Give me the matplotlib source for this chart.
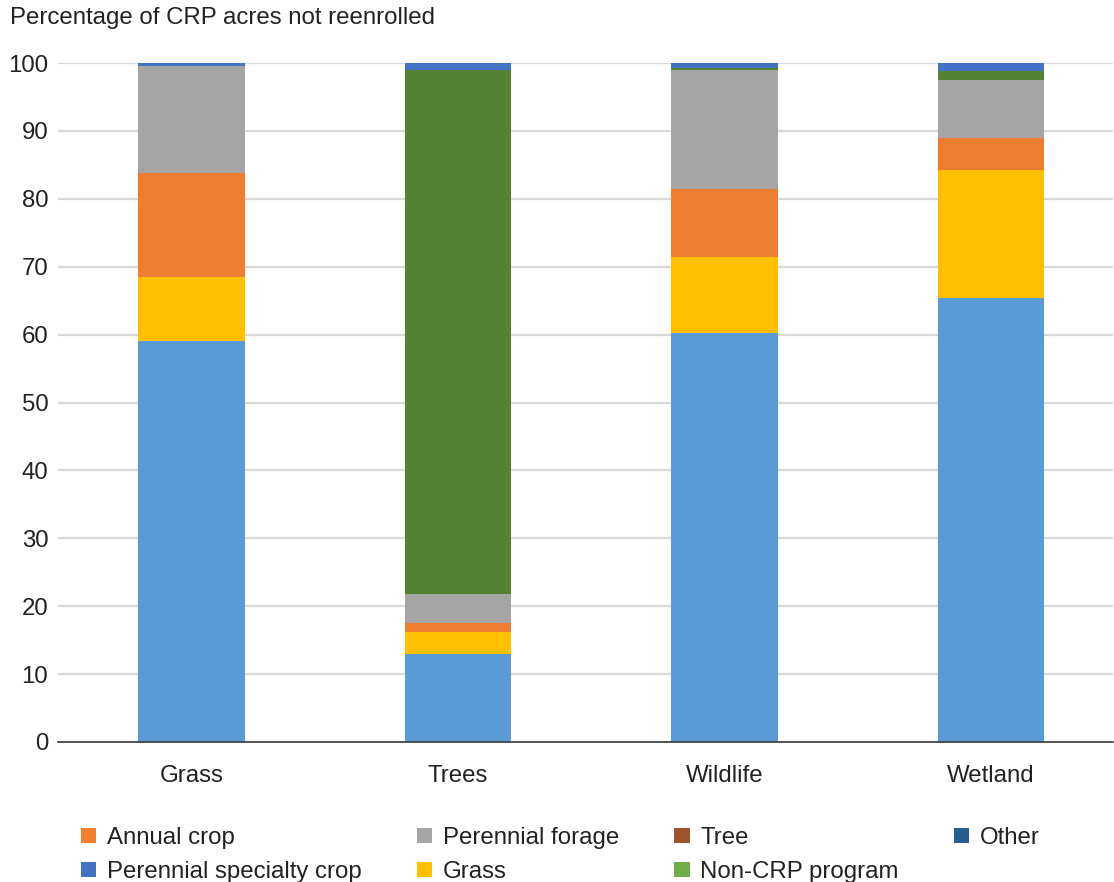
import matplotlib.pyplot as plt
from matplotlib.patches import Patch
import numpy as np

plt.rcParams['font.family'] = ['Liberation Sans', 'DejaVu Sans']

# ---------- data ----------
categories = ["Grass", "Trees", "Wildlife", "Wetland"]

# stacked segments, bottom to top (percent of acres not reenrolled)
seg_names = ["Base", "Grass", "Annual crop", "Perennial forage", "Non-CRP program", "Other"]
base = [59.0, 13.0, 60.2, 65.4]
grass = [9.5, 3.2, 11.2, 18.8]
annual = [15.3, 1.3, 10.0, 4.8]
forage = [15.8, 4.3, 17.5, 8.5]
non_crp = [0.0, 77.1, 0.3, 1.3]
other = [0.4, 1.1, 0.8, 1.2]
seg_colors = ["#5B9BD5", "#FFC000", "#ED7D31", "#A5A5A5", "#548235", "#4472C4"]

legend_labels = ["Annual crop", "Perennial specialty crop", "Perennial forage", "Grass",
                 "Tree", "Non-CRP program", "Other"]
legend_colors = ["#F08030", "#4472C4", "#A5A5A5", "#FFC000",
                 "#A0522D", "#70AD47", "#255E91"]

FS = 17.3
TXT = "#222222"

# ---------- chart ----------
fig = plt.figure(figsize=(11.14, 8.82), dpi=100)
ax = fig.add_axes([58 / 1114, 1 - 742 / 882, (1113 - 58) / 1114, (742 - 63) / 882])

x = np.arange(len(categories))
bottom = np.zeros(len(categories))
for vals, col in zip([base, grass, annual, forage, non_crp, other], seg_colors):
    ax.bar(x, vals, width=0.40, bottom=bottom, color=col, edgecolor="none", zorder=3)
    bottom += np.array(vals)

ax.set_ylim(0, 100)
ax.set_xlim(-0.5, 3.457)
ax.set_yticks(range(0, 101, 10))
ax.set_xticks(x)
ax.set_xticklabels(categories)
ax.yaxis.grid(True, color="#D9D9D9", linewidth=1.6, zorder=0)
ax.tick_params(axis="y", length=0, labelsize=FS, pad=7, colors=TXT)
ax.tick_params(axis="x", length=0, labelsize=FS, pad=16.5, colors=TXT)
for s in ["top", "right", "left"]:
    ax.spines[s].set_visible(False)
ax.spines["bottom"].set_color("#3A3A3A")
ax.spines["bottom"].set_linewidth(1.2)
ax.spines["bottom"].set_zorder(4)

fig.text(10 / 1114, 1 - 18 / 882, "Percentage of CRP acres not reenrolled",
         fontsize=FS, color=TXT, va="center", ha="left")

handles = [Patch(facecolor=c, edgecolor="none") for c in legend_colors]
fig.legend(handles, legend_labels, ncol=4, frameon=False, fontsize=FS,
           loc="upper left", bbox_to_anchor=(69 / 1114, 1 - 815 / 882),
           borderpad=0, handlelength=0.63, handleheight=0.63, handletextpad=0.45,
           columnspacing=2.3, labelspacing=0.5, labelcolor=TXT)

fig.savefig("out.png", dpi=100)
